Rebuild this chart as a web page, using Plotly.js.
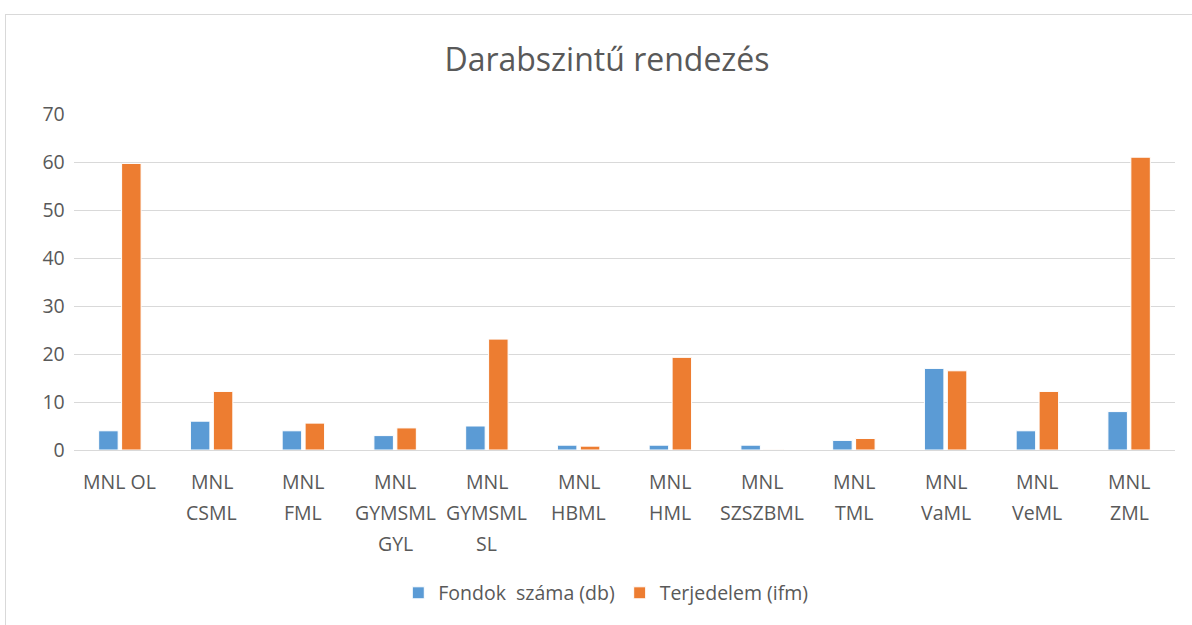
<!DOCTYPE html>
<html>
<head>
<meta charset="utf-8">
<script src="https://cdn.plot.ly/plotly-3.0.1.min.js"></script>
<style>
html,body{margin:0;padding:0;background:#fff;width:1192px;height:625px;overflow:hidden;}
#frame{position:absolute;left:5px;top:14px;width:1186px;height:610px;border-left:1px solid #d9d9d9;border-top:1px solid #d9d9d9;}
#chart{width:1186px;height:610px;}
</style>
</head>
<body>
<div id="frame"><div id="chart"></div></div>
<script>
const categories = ["MNL OL","MNL CSML","MNL FML","MNL GYMSML GYL","MNL GYMSML SL","MNL HBML","MNL HML","MNL SZSZBML","MNL TML","MNL VaML","MNL VeML","MNL ZML"];
const tickLabelLines = [["MNL OL"],["MNL","CSML"],["MNL","FML"],["MNL","GYMSML","GYL"],["MNL","GYMSML","SL"],["MNL","HBML"],["MNL","HML"],["MNL","SZSZBML"],["MNL","TML"],["MNL","VaML"],["MNL","VeML"],["MNL","ZML"]];
const fondokSzama = [4, 6, 4, 3, 5, 1, 1, 1, 2, 17, 4, 8];
const terjedelem = [59.7, 12.2, 5.6, 4.6, 23.1, 0.8, 19.3, 0.05, 2.4, 16.5, 12.2, 61.0];
const seriesNames = ["Fondok  száma (db)", "Terjedelem (ifm)"];

const fontFam = '"Open Sans", sans-serif';
const textColor = '#595959';
const traces = [
  {type:'bar', x:categories, y:fondokSzama, name:seriesNames[0], marker:{color:'#5b9bd5', line:{color:'#ffffff', width:1}}},
  {type:'bar', x:categories, y:terjedelem, name:seriesNames[1], marker:{color:'#ed7d31', line:{color:'#ffffff', width:1}}}
];

const lineShifts = [-31, -62, -93];
const annotations = [];
categories.forEach((c, i) => {
  tickLabelLines[i].forEach((t, j) => {
    annotations.push({xref:'x', yref:'paper', x:c, y:0, yanchor:'middle', xanchor:'center', yshift:lineShifts[j], text:t, showarrow:false, font:{family:fontFam, size:19.5, color:textColor}});
  });
});

const layout = {
  width:1186, height:610,
  margin:{l:68, r:17, t:99, b:175},
  paper_bgcolor:'#ffffff', plot_bgcolor:'#ffffff',
  font:{family:fontFam, color:textColor, size:19.5},
  title:{text:'Darabszintű rendezés', font:{family:fontFam, size:32, color:textColor}, x:(607-6)/1186, xanchor:'center', xref:'container', y:1-45/610, yanchor:'middle'},
  barmode:'group', bargap:0.5, bargroupgap:0.15,
  xaxis:{type:'category', showgrid:false, showline:true, linecolor:'#d9d9d9', linewidth:1, ticks:'', showticklabels:false, automargin:false},
  yaxis:{range:[0,70], dtick:10, showgrid:true, gridcolor:'#d9d9d9', gridwidth:1, zeroline:false, showline:false, ticks:'', ticksuffix:'\u00a0\u2009', tickfont:{size:19.5, color:textColor}, automargin:false},
  legend:{orientation:'h', x:0.483, xanchor:'center', y:-0.426, yanchor:'middle', font:{size:19.5, color:textColor}, itemwidth:30, traceorder:'normal'},
  annotations:annotations,
  showlegend:true
};
Plotly.newPlot('chart', traces, layout, {displayModeBar:false, staticPlot:true});
</script>
</body>
</html>
